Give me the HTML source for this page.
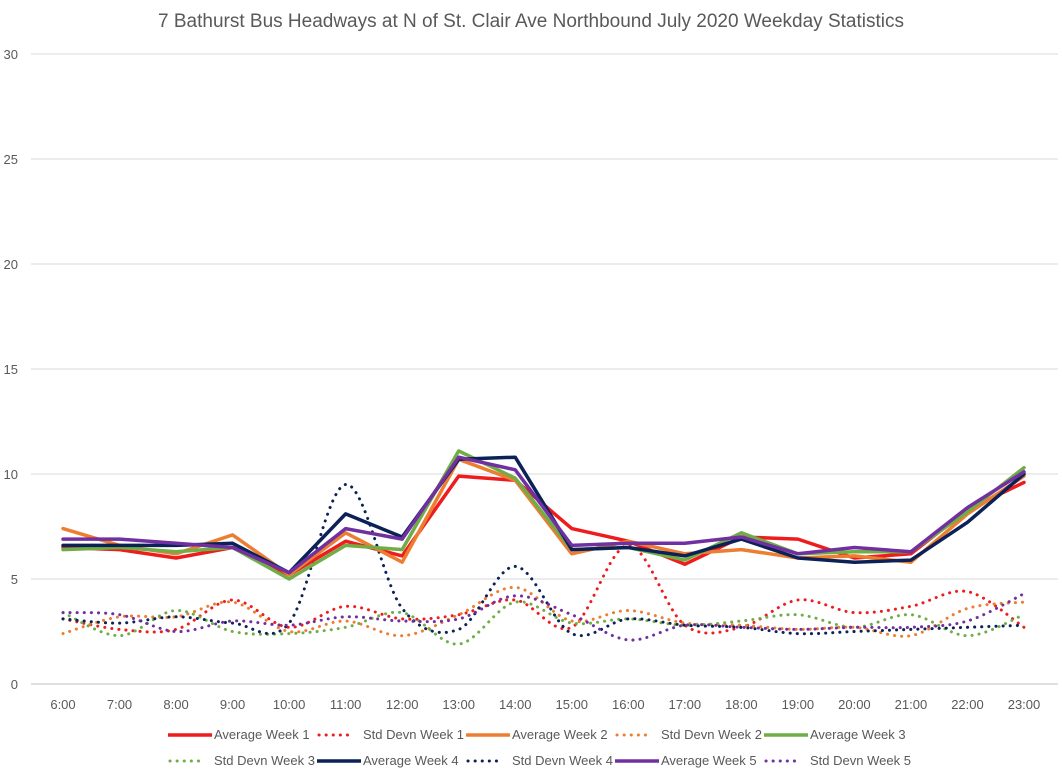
<!DOCTYPE html>
<html><head><meta charset="utf-8"><style>
body{margin:0;background:#fff;}
svg{display:block;font-family:"Liberation Sans",sans-serif;}
</style></head><body>
<svg id="chart" width="1062" height="780">
<text x="531" y="27" text-anchor="middle" font-size="19" fill="#595959">7 Bathurst Bus Headways at N of St. Clair Ave Northbound July 2020 Weekday Statistics</text>
<g id="grid"></g><g id="series"></g><g id="legend"></g>
</svg>
<script>
const categories=["6:00","7:00","8:00","9:00","10:00","11:00","12:00","13:00","14:00","15:00","16:00","17:00","18:00","19:00","20:00","21:00","22:00","23:00"];
const yTicks=[0,5,10,15,20,25,30];
const avgW1=[6.5,6.4,6.0,6.5,5.2,6.8,6.1,9.9,9.7,7.4,6.8,5.7,7.0,6.9,6.0,6.2,8.3,9.6];
const stdW1=[3.1,2.6,2.6,4.0,2.7,3.7,3.1,3.3,4.0,2.7,6.6,2.8,2.7,4.0,3.4,3.7,4.4,2.7];
const avgW2=[7.4,6.6,6.2,7.1,5.2,7.2,5.8,10.7,9.7,6.2,6.8,6.2,6.4,6.0,6.1,5.8,8.1,9.9];
const stdW2=[2.4,3.2,3.2,3.9,2.5,3.0,2.3,3.3,4.6,3.0,3.5,2.9,2.8,2.6,2.7,2.3,3.6,3.9];
const avgW3=[6.4,6.5,6.3,6.5,5.0,6.6,6.4,11.1,9.8,6.4,6.5,5.9,7.2,6.2,6.3,6.3,8.2,10.3];
const stdW3=[3.4,2.3,3.5,2.5,2.4,2.7,3.4,1.9,3.9,2.9,3.1,2.8,3.0,3.3,2.7,3.3,2.3,3.3];
const avgW4=[6.6,6.6,6.6,6.7,5.3,8.1,7.0,10.7,10.8,6.4,6.5,6.1,6.9,6.0,5.8,5.9,7.7,10.0];
const stdW4=[3.1,2.9,3.2,2.9,2.9,9.5,3.6,2.6,5.6,2.4,3.1,2.8,2.7,2.4,2.5,2.6,2.7,2.8];
const avgW5=[6.9,6.9,6.7,6.5,5.3,7.4,6.9,10.8,10.2,6.6,6.7,6.7,7.0,6.2,6.5,6.3,8.4,10.1];
const stdW5=[3.4,3.3,2.5,3.0,2.8,3.2,3.0,3.1,4.2,3.3,2.1,2.8,2.7,2.6,2.7,2.7,3.0,4.3];
const NS="http://www.w3.org/2000/svg";
const x0=63,x1=1024,yBase=684,yTop=54,yMax=30;
const xS=i=>x0+i*(x1-x0)/(categories.length-1);
const yS=v=>yBase-v*(yBase-yTop)/yMax;
function mk(tag,attrs,parent){const e=document.createElementNS(NS,tag);for(const k in attrs)e.setAttribute(k,attrs[k]);parent.appendChild(e);return e;}
const grid=document.getElementById('grid');
yTicks.forEach(t=>{
  const l=mk('line',{x1:31,x2:1058,y1:yS(t),y2:yS(t),stroke:t===0?'#bfbfbf':'#d9d9d9','stroke-width':1},grid);
  
  
  const tx=mk('text',{x:18,y:yS(t)+5,'text-anchor':'end','font-size':13,fill:'#595959'},grid);
  tx.textContent=t;
  
  
});
categories.forEach((c,i)=>{
  const tx=mk('text',{x:xS(i),y:709,'text-anchor':'middle','font-size':13,fill:'#595959'},grid);
  tx.textContent=c;
  
  
});
function straight(vals){return vals.map((v,i)=>(i?'L':'M')+xS(i)+' '+yS(v)).join(' ');}
function smooth(vals){
  const p=vals.map((v,i)=>[xS(i),yS(v)]);let d='M'+p[0][0]+' '+p[0][1];
  for(let i=0;i<p.length-1;i++){const a=p[i-1]||p[i],b=p[i],c=p[i+1],e=p[i+2]||c;
    d+=` C${b[0]+(c[0]-a[0])/6} ${b[1]+(c[1]-a[1])/6} ${c[0]-(e[0]-b[0])/6} ${c[1]-(e[1]-b[1])/6} ${c[0]} ${c[1]}`;}
  return d;}
const series=[
 {name:'Average Week 1',vals:avgW1,color:'#ee1c1c',dot:false},
 {name:'Std Devn Week 1',vals:stdW1,color:'#ee1c1c',dot:true},
 {name:'Average Week 2',vals:avgW2,color:'#ed7d31',dot:false},
 {name:'Std Devn Week 2',vals:stdW2,color:'#ed7d31',dot:true},
 {name:'Average Week 3',vals:avgW3,color:'#70ad47',dot:false},
 {name:'Std Devn Week 3',vals:stdW3,color:'#70ad47',dot:true},
 {name:'Average Week 4',vals:avgW4,color:'#0c2256',dot:false},
 {name:'Std Devn Week 4',vals:stdW4,color:'#0c2256',dot:true},
 {name:'Average Week 5',vals:avgW5,color:'#7030a0',dot:false},
 {name:'Std Devn Week 5',vals:stdW5,color:'#7030a0',dot:true}];
const sg=document.getElementById('series');
const order=[1,3,5,7,9,0,2,4,6,8];
order.forEach(k=>{const s=series[k];
  const p=mk('path',{d:s.dot?smooth(s.vals):straight(s.vals),fill:'none',stroke:s.color,'stroke-width':s.dot?3:3.5,'stroke-linejoin':'round','stroke-linecap':'round'},sg);
  if(s.dot)p.setAttribute('stroke-dasharray','0.1 7');
  
  
});
const lg=document.getElementById('legend');
series.forEach((s,k)=>{const row=k<5?0:1;const col=k%5;
  const ty=row?765:739;const tx=214+col*149;
  const g=mk('g',{},lg);
  
  
  const ly=ty-4;
  if(s.dot) mk('line',{x1:tx-44,x2:tx-12,y1:ly,y2:ly,stroke:s.color,'stroke-width':3,'stroke-linecap':'round','stroke-dasharray':'0.1 7'},g);
  else mk('line',{x1:tx-46,x2:tx-2,y1:ly,y2:ly,stroke:s.color,'stroke-width':3.5},g);
  const t=mk('text',{x:tx,y:ty,'font-size':13,fill:'#595959'},g);t.textContent=s.name;
});
</script>
</body></html>
